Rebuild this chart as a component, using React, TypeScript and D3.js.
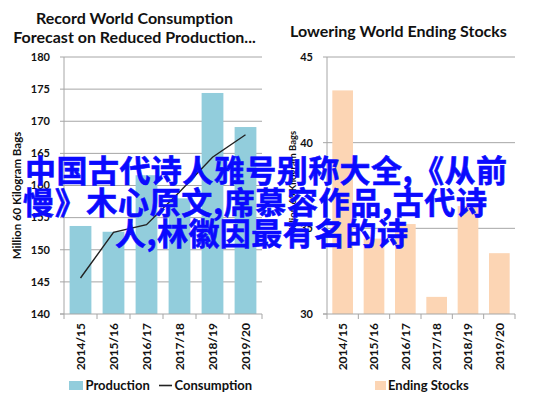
import React, { useEffect, useRef } from 'react';
import * as d3 from 'd3';

const years = ['2014/15', '2015/16', '2016/17', '2017/18', '2018/19', '2019/20'];
const production = [153.7, 152.8, 161.6, 158.0, 174.4, 169.1];
const consumption = [145.6, 152.7, 153.9, 159.0, 164.4, 167.9];
const endingStocks = [43.05, 34.4, 35.25, 31.0, 36.3, 33.55];
const leftTicks = [140, 145, 150, 155, 160, 165, 170, 175, 180];
const rightTicks = [30, 35, 40, 45];
const overlayLines = ['中国古代诗人雅号别称大全,《从前', '慢》木心原文,席慕容作品,古代诗', '人,林徽因最有名的诗'];
// left edge / width of each overlay line in the picture
const overlayBox = [[25, 482], [23, 464], [115, 293]];

const FONT = 'Lato, "Open Sans", sans-serif';

export default function App() {
  const ref = useRef<SVGSVGElement>(null);

  useEffect(() => {
    const svg = d3.select(ref.current);
    svg.selectAll('*').remove();

    const top = 57, bottom = 314;

    const drawPanel = (opts: any) => {
      const { x0, x1, domain, ticks, labelX, titleX, titleSize, barColor, values } = opts;
      const x = d3.scaleBand().domain(years).range([x0, x1]).paddingInner(0.34).paddingOuter(0.17);
      const y = d3.scaleLinear().domain(domain).range([bottom, top]);
      const g = svg.append('g');

      // horizontal gridlines
      g.selectAll('line.grid').data(ticks.slice(1)).enter().append('line')
        .attr('x1', x0).attr('x2', x1)
        .attr('y1', (d: number) => y(d)).attr('y2', (d: number) => y(d))
        .attr('stroke', '#a6a6a6').attr('stroke-width', 1);

      // bars
      g.selectAll('rect').data(values).enter().append('rect')
        .attr('x', (_: number, i: number) => x(years[i])!)
        .attr('y', (d: number) => y(d))
        .attr('width', x.bandwidth())
        .attr('height', (d: number) => bottom - y(d))
        .attr('fill', barColor);

      // axes
      g.append('line').attr('x1', x0).attr('x2', x0).attr('y1', top).attr('y2', bottom)
        .attr('stroke', '#a6a6a6');
      g.append('line').attr('x1', x0 - 4).attr('x2', x1).attr('y1', bottom).attr('y2', bottom)
        .attr('stroke', '#a6a6a6');
      const bounds = d3.range(years.length + 1).map(i => x0 + i * (x1 - x0) / years.length);
      g.selectAll('line.tick').data(bounds).enter().append('line')
        .attr('x1', (d: number) => d).attr('x2', (d: number) => d)
        .attr('y1', bottom).attr('y2', bottom + 5)
        .attr('stroke', '#a6a6a6');
      g.selectAll('line.ytick').data(ticks).enter().append('line')
        .attr('x1', x0 - 4).attr('x2', x0)
        .attr('y1', (d: number) => y(d)).attr('y2', (d: number) => y(d))
        .attr('stroke', '#a6a6a6');

      g.selectAll('text.ylab').data(ticks).enter().append('text')
        .attr('x', labelX).attr('y', (d: number) => y(d))
        .attr('dy', '0.35em').attr('text-anchor', 'end')
        .attr('font-family', FONT).attr('font-weight', 700).attr('font-size', 11)
        .attr('fill', '#111').text((d: number) => d);

      g.selectAll('text.xlab').data(years).enter().append('text')
        .attr('transform', (d: string) => `translate(${x(d)! + x.bandwidth() / 2},${bottom + 9}) rotate(-90)`)
        .attr('dy', '0.35em').attr('text-anchor', 'end')
        .attr('font-family', FONT).attr('font-weight', 700).attr('font-size', 12)
        .attr('fill', '#111').text((d: string) => d);

      g.append('text')
        .attr('transform', `translate(${titleX},${(top + bottom) / 2 + (opts.titleShift || 0)}) rotate(-90)`)
        .attr('dy', '0.35em').attr('text-anchor', 'middle')
        .attr('font-family', FONT).attr('font-weight', 700).attr('font-size', titleSize)
        .attr('fill', '#111').text('Million 60 Kilogram Bags');

      return { x, y, g };
    };

    const left = drawPanel({
      x0: 64, x1: 262, domain: [140, 180], ticks: leftTicks, labelX: 50,
      titleX: 17, titleSize: 11.5, barColor: '#92cddc', values: production, titleShift: 10,
    });

    const line = d3.line<number>()
      .x((_, i) => left.x(years[i])! + left.x.bandwidth() / 2)
      .y(d => left.y(d));
    left.g.append('path').datum(consumption).attr('d', line)
      .attr('fill', 'none').attr('stroke', '#222').attr('stroke-width', 1.4);

    drawPanel({
      x0: 327, x1: 515, domain: [30, 45], ticks: rightTicks, labelX: 313,
      titleX: 293, titleSize: 9.5, barColor: '#fcd5b4', values: endingStocks, titleShift: -2,
    });

    // titles
    const title = (txt: string, cx: number, by: number) =>
      svg.append('text').attr('x', cx).attr('y', by).attr('text-anchor', 'middle')
        .attr('font-family', FONT).attr('font-weight', 700).attr('font-size', 16)
        .attr('fill', '#111').text(txt);
    title('Record World Consumption', 134.5, 24);
    title('Forecast on Reduced Production...', 134.5, 43);
    title('Lowering World Ending Stocks', 398.5, 37);

    // legends
    const legText = (txt: string, lx: number) =>
      svg.append('text').attr('x', lx).attr('y', 390).attr('font-family', FONT)
        .attr('font-weight', 700).attr('font-size', 13).attr('fill', '#111').text(txt);
    svg.append('rect').attr('x', 69).attr('y', 381).attr('width', 14).attr('height', 9).attr('fill', '#92cddc');
    legText('Production', 85.5);
    svg.append('line').attr('x1', 159).attr('x2', 172).attr('y1', 385.5).attr('y2', 385.5)
      .attr('stroke', '#222').attr('stroke-width', 1.6);
    legText('Consumption', 174.5);
    svg.append('rect').attr('x', 375).attr('y', 381).attr('width', 11).attr('height', 9).attr('fill', '#fcd5b4');
    legText('Ending Stocks', 388);

    // overlay caption
    svg.selectAll('text.overlay').data(overlayLines).enter().append('text')
      .attr('x', (_: string, i: number) => overlayBox[i][0])
      .attr('y', (_: string, i: number) => 182 + i * 31.5)
      .attr('textLength', (_: string, i: number) => overlayBox[i][1])
      .attr('lengthAdjust', 'spacing')
      .attr('font-family', '"Noto Sans CJK SC", sans-serif').attr('font-weight', 700)
      .attr('font-size', 31).attr('fill', '#0a0aff')
      .attr('stroke', '#0a0aff').attr('stroke-width', 0.6)
      .text((d: string) => d);
  }, []);

  return (
    <svg ref={ref} width={537} height={399}
      style={{ position: 'absolute', left: 0, top: 0, background: '#fff' }} />
  );
}
